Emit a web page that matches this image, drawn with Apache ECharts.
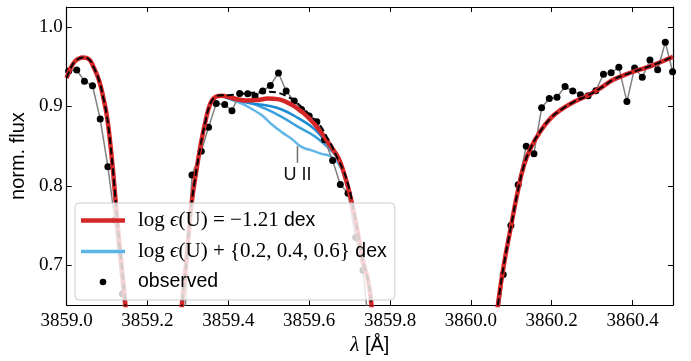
<!DOCTYPE html>
<html><head><meta charset="utf-8">
<script src="https://cdn.jsdelivr.net/npm/echarts@6/dist/echarts.min.js"></script>
<style>html,body{margin:0;padding:0;background:#fff}#c{width:691px;height:361px}</style>
</head><body><div id="c"></div>
<script>
// ---------- data (wavelength in Å, normalized flux) ----------
const obsWave = [3859.005,3859.025,3859.044,3859.064,3859.083,3859.102,3859.119,3859.138,3859.157,3859.291,3859.310,3859.333,3859.351,3859.370,3859.391,3859.409,3859.428,3859.448,3859.466,3859.485,3859.504,3859.524,3859.543,3859.563,3859.581,3859.600,3859.619,3859.638,3859.658,3859.677,3859.696,3859.715,3859.733,3859.752,3860.060,3860.080,3860.099,3860.117,3860.137,3860.156,3860.175,3860.194,3860.213,3860.233,3860.252,3860.271,3860.290,3860.309,3860.328,3860.347,3860.366,3860.386,3860.405,3860.424,3860.443,3860.462,3860.481,3860.499];
const obsFlux = [0.9445,0.9458,0.9317,0.9259,0.8841,0.8241,0.7571,0.6640,0.58,0.62,0.8138,0.8436,0.8738,0.9036,0.9023,0.8945,0.9163,0.9160,0.9131,0.9193,0.9263,0.9420,0.9193,0.9067,0.8961,0.8880,0.8808,0.858,0.832,0.8018,0.7906,0.7351,0.6938,0.60,0.60,0.6885,0.7500,0.8014,0.8499,0.8405,0.8982,0.9098,0.9114,0.9250,0.9193,0.9147,0.9135,0.9197,0.9404,0.9424,0.9491,0.9060,0.9482,0.9367,0.9582,0.9461,0.9805,0.9437];

// best-fit synthesis, log eps(U) = -1.21
const modelWave = [3859.000,3859.010,3859.020,3859.030,3859.040,3859.055,3859.0665,3859.0805,3859.0911,3859.0985,3859.1052,3859.1145,3859.128,3859.1453,3859.160,3859.215,3859.270,3859.285,3859.296,3859.308,3859.319,3859.331,3859.344,3859.356,3859.369,3859.384,3859.401,3859.421,3859.446,3859.473,3859.498,3859.522,3859.544,3859.564,3859.598,3859.631,3859.658,3859.672,3859.685,3859.700,3859.714,3859.725,3859.735,3859.746,3859.754,3859.770,3859.900,3860.045,3860.067,3860.081,3860.099,3860.115,3860.131,3860.148,3860.172,3860.197,3860.222,3860.254,3860.288,3860.320,3860.352,3860.387,3860.419,3860.451,3860.500];
const modelFlux = [0.9358,0.9482,0.9563,0.9600,0.9615,0.9594,0.9495,0.9321,0.9098,0.8911,0.8663,0.8204,0.7410,0.6505,0.55,0.40,0.57,0.650,0.705,0.7733,0.813,0.850,0.8825,0.9042,0.9122,0.9135,0.9116,0.9091,0.9073,0.9079,0.9098,0.9091,0.9054,0.8998,0.8862,0.8663,0.8463,0.8353,0.8179,0.7906,0.7583,0.7277,0.7013,0.6802,0.6505,0.57,0.40,0.56,0.6506,0.6990,0.7484,0.7906,0.8254,0.8477,0.8688,0.8849,0.8955,0.9054,0.9135,0.9228,0.9334,0.9408,0.9464,0.9520,0.9625];

// synthesis without U (black dashed)
const noUWave = [3859.000,3859.010,3859.020,3859.030,3859.040,3859.055,3859.0665,3859.0805,3859.0911,3859.0985,3859.1052,3859.1145,3859.128,3859.1453,3859.160,3859.215,3859.270,3859.285,3859.296,3859.308,3859.319,3859.331,3859.344,3859.356,3859.369,3859.384,3859.401,3859.421,3859.446,3859.473,3859.498,3859.522,3859.544,3859.564,3859.585,3859.606,3859.626,3859.643,3859.655,3859.667,3859.684,3859.696,3859.704,3859.714,3859.725,3859.735,3859.746,3859.754,3859.770,3859.900,3860.045,3860.067,3860.081,3860.099,3860.115,3860.131,3860.148,3860.172,3860.197,3860.222,3860.254,3860.288,3860.320,3860.352,3860.387,3860.419,3860.451,3860.500];
const noUFlux = [0.9358,0.9482,0.9563,0.9600,0.9615,0.9594,0.9495,0.9321,0.9098,0.8911,0.8663,0.8204,0.7410,0.6505,0.55,0.40,0.57,0.650,0.705,0.7733,0.813,0.850,0.8825,0.9042,0.9122,0.9141,0.9141,0.9153,0.9166,0.9178,0.9185,0.9172,0.9129,0.9067,0.8974,0.8871,0.8766,0.8622,0.8514,0.8378,0.8204,0.8022,0.7856,0.7583,0.7277,0.7013,0.6802,0.6505,0.57,0.40,0.56,0.6506,0.6990,0.7484,0.7906,0.8254,0.8477,0.8688,0.8849,0.8955,0.9054,0.9135,0.9228,0.9334,0.9408,0.9464,0.9520,0.9625];

// enhanced U abundance: +0.2, +0.4, +0.6 dex
const plus02Wave = [3859.384,3859.409,3859.451,3859.495,3859.532,3859.574,3859.613,3859.645,3859.665,3859.680,3859.695];
const plus02Flux = [0.9135,0.9091,0.9042,0.9011,0.8961,0.8849,0.8713,0.8527,0.8409,0.8241,0.8006];
const plus04Wave = [3859.384,3859.409,3859.451,3859.490,3859.532,3859.574,3859.613,3859.645,3859.665,3859.680,3859.695];
const plus04Flux = [0.9135,0.9085,0.9048,0.8974,0.8868,0.8738,0.8626,0.8490,0.8384,0.8229,0.7993];
const plus06Wave = [3859.384,3859.409,3859.433,3859.458,3859.483,3859.507,3859.532,3859.557,3859.581,3859.606,3859.631,3859.650,3859.665,3859.675,3859.685,3859.695];
const plus06Flux = [0.9135,0.9079,0.9036,0.8967,0.8887,0.8775,0.8676,0.8589,0.8490,0.8446,0.8403,0.8378,0.8328,0.8254,0.8154,0.7993];

const xTicks = [3859.0,3859.2,3859.4,3859.6,3859.8,3860.0,3860.2,3860.4];
const yTicks = [0.7,0.8,0.9,1.0];

const annX = 3859.571, annLineTop = 0.850, annLineBottom = 0.829, annTextY = 0.813;

// ---------- chart ----------
const zip = (a, b) => a.map((v, i) => [v, b[i]]);
const chart = echarts.init(document.getElementById('c'), null, {renderer: 'canvas'});

const NAME_RED = 'best', NAME_BLUE = 'plus', NAME_OBS = 'observed';
const legendText = {
  best: '{m|log }{i|ϵ}{m|(U) = −1.21 }{s|dex}',
  plus: '{m|log }{i|ϵ}{m|(U) + {0.2, 0.4, 0.6}}{s| dex}',
  observed: '{s|observed}'
};
const serif = 'Liberation Serif', sans = 'Liberation Sans';

const axisCommon = {
  type: 'value',
  axisLine: {show: true, onZero: false, lineStyle: {color: '#000', width: 1.2}},
  axisTick: {show: true, inside: true, length: 5, lineStyle: {color: '#000', width: 1}},
  splitLine: {show: false}
};
const SMOOTH = 0.45;

chart.setOption({
  animation: false,
  backgroundColor: '#fff',
  grid: {left: 64, right: 18, top: 7, bottom: 52, containLabel: false},
  xAxis: [
    Object.assign({}, axisCommon, {
      position: 'bottom', min: 3859.0, max: 3860.5,
      axisTick: Object.assign({}, axisCommon.axisTick, {customValues: xTicks}),
      axisLabel: {customValues: xTicks, margin: 6, color: '#000', fontFamily: serif, fontSize: 19,
                  formatter: v => v.toFixed(1)},
      name: '{l|λ} {r|[Å]}', nameLocation: 'middle', nameGap: 29,
      nameTextStyle: {color: '#000', fontFamily: sans, fontSize: 20,
        rich: {l: {fontFamily: serif, fontStyle: 'italic', fontSize: 21, color: '#000'},
               r: {fontFamily: sans, fontSize: 20, color: '#000'}}}
    }),
    Object.assign({}, axisCommon, {
      position: 'top', min: 3859.0, max: 3860.5,
      axisTick: Object.assign({}, axisCommon.axisTick, {customValues: xTicks}),
      axisLabel: {show: false}
    })
  ],
  yAxis: [
    Object.assign({}, axisCommon, {
      position: 'left', min: 0.65, max: 1.025,
      axisTick: Object.assign({}, axisCommon.axisTick, {customValues: yTicks}),
      axisLabel: {customValues: yTicks, margin: 4, color: '#000', fontFamily: serif, fontSize: 19,
                  formatter: v => v.toFixed(1)},
      name: 'norm. flux', nameLocation: 'middle', nameGap: 35,
      nameTextStyle: {color: '#000', fontFamily: sans, fontSize: 20}
    }),
    Object.assign({}, axisCommon, {
      position: 'right', min: 0.65, max: 1.025,
      axisTick: Object.assign({}, axisCommon.axisTick, {customValues: yTicks}),
      axisLabel: {show: false}
    })
  ],
  legend: {
    z: 10,
    data: [
      {name: NAME_RED, icon: 'path://M0,0 M44,14 M0,4.7 L44,4.7 L44,9.3 L0,9.3 Z', itemStyle: {color: '#d62728', borderWidth: 0}},
      {name: NAME_BLUE, icon: 'path://M0,0 M44,14 M0,5.3 L44,5.3 L44,8.7 L0,8.7 Z', itemStyle: {color: '#5ab4e5', borderWidth: 0}},
      {name: NAME_OBS, icon: 'path://M0,0 M44,14 M25.3,7 A3.3,3.3 0 1 1 18.7,7 A3.3,3.3 0 1 1 25.3,7 Z', itemStyle: {color: '#000', borderWidth: 0}}
    ],
    orient: 'vertical', left: 75, top: 203,
    itemWidth: 44, itemHeight: 14, itemGap: 10,
    padding: [7, 8, 8, 6],
    selectedMode: false,
    backgroundColor: 'rgba(255,255,255,0.8)', borderColor: '#cccccc', borderWidth: 1, borderRadius: 4,
    formatter: n => legendText[n],
    textStyle: {color: '#000', fontFamily: serif, fontSize: 21, lineHeight: 20, padding: [0, 0, 0, 8],
      rich: {
        m: {fontFamily: serif, fontSize: 21, lineHeight: 20, color: '#000'},
        i: {fontFamily: serif, fontStyle: 'italic', fontSize: 21, lineHeight: 20, color: '#000'},
        s: {fontFamily: sans, fontSize: 19.5, lineHeight: 20, color: '#000'}
      }}
  },
  series: [
    {name: 'plus06', type: 'line', z: 2, data: zip(plus06Wave, plus06Flux), showSymbol: false, symbol: 'none',
     smooth: SMOOTH, color: '#62b6e7', lineStyle: {width: 2.5, color: '#62b6e7'}, clip: true},
    {name: 'plus04', type: 'line', z: 2, data: zip(plus04Wave, plus04Flux), showSymbol: false, symbol: 'none',
     smooth: SMOOTH, color: '#3ba0de', lineStyle: {width: 2.5, color: '#3ba0de'}, clip: true},
    {name: NAME_BLUE, type: 'line', z: 2, data: zip(plus02Wave, plus02Flux), showSymbol: false, symbol: 'none',
     smooth: SMOOTH, color: '#5ab4e5', lineStyle: {width: 2.5, color: '#1b8ad3'}, clip: true},
    {name: 'obsline', type: 'line', z: 2, data: zip(obsWave, obsFlux), showSymbol: false, symbol: 'none',
     color: '#808080', lineStyle: {width: 1.5, color: '#808080'}, clip: true},
    {name: NAME_OBS, type: 'scatter', z: 2, data: zip(obsWave, obsFlux), symbol: 'circle', symbolSize: 7,
     color: '#000', itemStyle: {color: '#000', opacity: 1}, clip: true},
    {name: NAME_RED, type: 'line', z: 3, data: zip(modelWave, modelFlux), showSymbol: false, symbol: 'none',
     smooth: SMOOTH, color: '#d62728', lineStyle: {width: 4.5, color: '#d62728'}, clip: true},
    {name: 'noU', type: 'line', z: 4, data: zip(noUWave, noUFlux), showSymbol: false, symbol: 'none',
     smooth: SMOOTH, color: '#000', lineStyle: {width: 2, color: '#000', type: [7, 3.5]}, clip: true}
  ]
});

// annotation for the U II line, placed in data coordinates
const pTop = chart.convertToPixel({xAxisIndex: 0, yAxisIndex: 0}, [annX, annLineTop]);
const pBot = chart.convertToPixel({xAxisIndex: 0, yAxisIndex: 0}, [annX, annLineBottom]);
const pTxt = chart.convertToPixel({xAxisIndex: 0, yAxisIndex: 0}, [annX, annTextY]);
chart.setOption({
  graphic: [
    {type: 'line', shape: {x1: pTop[0], y1: pTop[1], x2: pBot[0], y2: pBot[1]},
     style: {stroke: '#707070', lineWidth: 1.5}, z: 10},
    {type: 'text', x: pTxt[0], y: pTxt[1],
     style: {text: 'U II', fill: '#111', font: '18px "Liberation Sans"', align: 'center', verticalAlign: 'middle'}, z: 10}
  ]
});
</script></body></html>
